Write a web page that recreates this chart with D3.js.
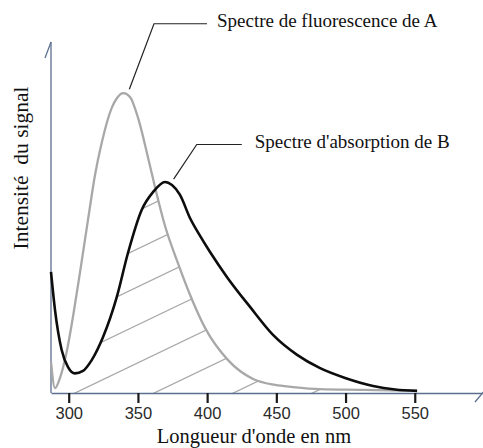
<!DOCTYPE html>
<html>
<head>
<meta charset="utf-8">
<script src="https://cdn.jsdelivr.net/npm/d3@7"></script>
<style>
  body { margin: 0; background: #fff; }
  svg { display: block; }
</style>
</head>
<body>
<svg id="chart" width="483" height="448"></svg>
<script>
// Wavelength ticks (nm)
const wavelengthTicks = [300, 350, 400, 450, 500, 550];

// Fluorescence spectrum of A (relative intensity)
const fluoA_nm  = [287.2, 290.1, 293.7, 298.5, 303.3, 308.2, 313.9, 319.0, 323.8, 331.0, 334.9, 339.4, 344.3, 350.1, 357.4, 363.9, 369.6, 379.1, 387.7, 398.5, 415.1, 433.2, 449.1, 462.1, 481.6, 512.7, 551.7];
const fluoA_val = [8.9,   1.4,   4.3,   11.7,  22.3,  34.6,  49.4,  62.3,  71.4,  81.4,  84.3,  85.7,  84.6,  78.6,  67.1,  56.3,  47.7,  36.9,  28.0,  18.6,  9.4,   4.0,   2.3,   1.7,   1.1,   0.9,   0.6];

// Absorption spectrum of B (relative intensity)
const absB_nm  = [287.2, 290.1, 294.9, 299.5, 304.5, 310.3, 316.6, 324.8, 334.7, 342.8, 352.7, 360.9, 369.6, 374.6, 380.4, 387.6, 394.9, 402.1, 414.4, 431.0, 447.6, 465.0, 481.6, 499.7, 519.9, 535.8, 551.7];
const absB_val = [34.6,  23.7,  12.3,  7.4,   5.6,   6.3,   9.4,   16.0,  27.4,  40.0,  52.3,  57.4,  60.3,  59.4,  56.6,  50.0,  44.9,  40.3,  33.1,  24.6,  16.6,  10.9,  7.1,   4.3,   2.0,   1.0,   0.6];

// Text labels
const labelA = "Spectre de fluorescence de A";
const labelB = "Spectre d'absorption de B";
const xTitle = "Longueur d'onde en nm";
const yTitle = "Intensité\u00a0 du signal";

const svg = d3.select("#chart");
const plotLeft = 51, plotRight = 483, plotBottom = 393, plotTop = 43;

const x = d3.scaleLinear().domain([287.2, 599.3]).range([plotLeft, plotRight]);
const y = d3.scaleLinear().domain([0, 100]).range([plotBottom, plotTop]);

const seriesA = fluoA_nm.map((d, i) => ({ nm: d, v: fluoA_val[i] }));
const seriesB = absB_nm.map((d, i) => ({ nm: d, v: absB_val[i] }));

const curve = d3.curveMonotoneX;
const line = d3.line().x(d => x(d.nm)).y(d => y(d.v)).curve(curve);
const area = d3.area().x(d => x(d.nm)).y0(y(0)).y1(d => y(d.v)).curve(curve);

// Clip regions: under each spectrum
const defs = svg.append("defs");
defs.append("clipPath").attr("id", "underA").append("path").attr("d", area(seriesA));
defs.append("clipPath").attr("id", "underB").append("path").attr("d", area(seriesB));

// Hatching of the overlap (under both spectra)
const hatchSlope = 0.48, hatchStart = 277, hatchStep = 38;
const hatchC = d3.range(hatchStart, 560, hatchStep);
svg.append("g").attr("clip-path", "url(#underA)")
  .append("g").attr("clip-path", "url(#underB)")
  .selectAll("line").data(hatchC).join("line")
  .attr("x1", plotLeft).attr("y1", c => c - hatchSlope * plotLeft)
  .attr("x2", plotRight).attr("y2", c => c - hatchSlope * plotRight)
  .attr("stroke", "#a9a9a9").attr("stroke-width", 1.3);

// Axes
const axisColor = "#5b6f8e";
const xAxis = d3.axisBottom(x).tickValues(wavelengthTicks).tickSize(10).tickPadding(4).tickSizeOuter(0);
const gx = svg.append("g").attr("transform", `translate(0,${plotBottom})`).call(xAxis);
gx.select(".domain").attr("stroke", axisColor).attr("stroke-width", 1.3);
gx.selectAll(".tick line").attr("stroke", "#1a1a1a").attr("stroke-width", 2.2);
gx.selectAll(".tick text").attr("fill", "#2a2a2a")
  .style("font-family", "'Liberation Sans', Arial, sans-serif").style("font-size", "16.5px");

svg.append("line").attr("x1", plotLeft).attr("x2", plotLeft).attr("y1", plotBottom).attr("y2", plotTop - 1)
  .attr("stroke", axisColor).attr("stroke-width", 1.3);
// arrow barbs
svg.append("line").attr("x1", plotLeft - 6).attr("y1", plotTop + 15).attr("x2", plotLeft).attr("y2", plotTop - 1)
  .attr("stroke", axisColor).attr("stroke-width", 1.3);
svg.append("line").attr("x1", plotRight - 8).attr("y1", plotBottom + 9).attr("x2", plotRight + 2).attr("y2", plotBottom - 3)
  .attr("stroke", axisColor).attr("stroke-width", 1.3);

// Spectra
svg.append("path").attr("d", line(seriesA)).attr("fill", "none")
  .attr("stroke", "#a8a8a8").attr("stroke-width", 2.3);
svg.append("path").attr("d", line(seriesB)).attr("fill", "none")
  .attr("stroke", "#0d0d0d").attr("stroke-width", 2.6);

// Annotations
const serif = "'Liberation Serif', 'Times New Roman', serif";
function annotate(anchor, elbow, run, gap, text) {
  const p0 = [x(anchor[0]), y(anchor[1])];
  const p1 = [x(elbow[0]), y(elbow[1])];
  svg.append("polyline")
    .attr("points", [p0, p1, [p1[0] + run, p1[1]]].map(p => p.join(",")).join(" "))
    .attr("fill", "none").attr("stroke", "#222").attr("stroke-width", 1.2);
  svg.append("text").attr("x", p1[0] + run + gap).attr("y", p1[1] + 3)
    .style("font-family", serif).style("font-size", "19px").attr("fill", "#111")
    .text(text);
}
annotate([343.8, 86.8], [361.6, 105.5], 53, 10, labelA);
annotate([375.8, 61.1], [392.5, 71.0], 45, 13, labelB);

// Axis titles
svg.append("text").attr("x", 254).attr("y", 443).attr("text-anchor", "middle")
  .style("font-family", serif).style("font-size", "20.5px").attr("fill", "#111").text(xTitle);
svg.append("text").attr("transform", "translate(28,168) rotate(-90)").attr("text-anchor", "middle")
  .style("font-family", serif).style("font-size", "21.5px").attr("fill", "#111").text(yTitle);
</script>
</body>
</html>
